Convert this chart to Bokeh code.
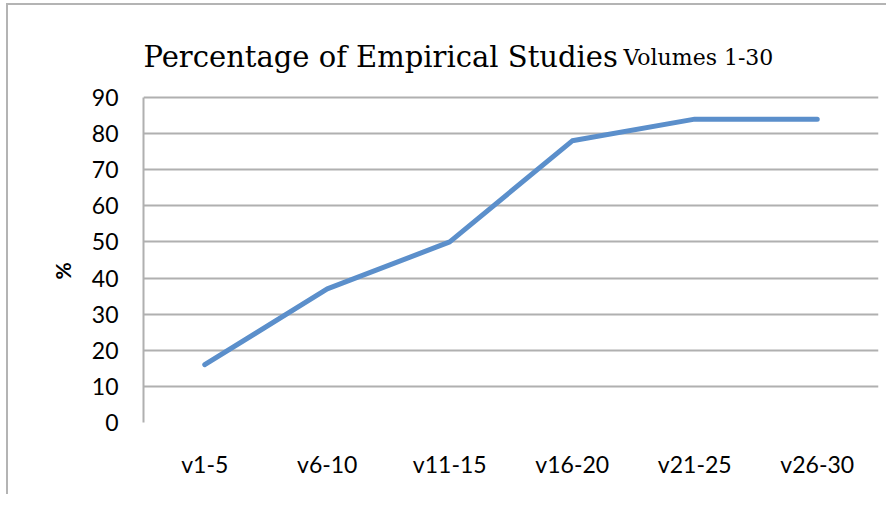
from bokeh.plotting import figure
from bokeh.models import FixedTicker, Range1d, Title
from bokeh.core.properties import value
from bokeh.embed import file_html
from bokeh.resources import INLINE

categories = ["v1-5", "v6-10", "v11-15", "v16-20", "v21-25", "v26-30"]
percent = [16, 37, 50, 78, 84, 84]
y_ticks = [0, 10, 20, 30, 40, 50, 60, 70, 80, 90]
title_main = "Percentage of Empirical Studies"
title_sub = "Volumes 1-30"
y_label = "%"

W, H = 880, 491
p = figure(x_range=categories, y_range=Range1d(0, 108.55), width=W, height=H,
           output_backend="svg", toolbar_location=None,
           min_border_left=135, min_border_right=10, min_border_top=25, min_border_bottom=74,
           stylesheets=[":host { margin-left: 6px !important; margin-top: 3px !important; "
                        "border-left: 2px solid #b4b4b4 !important; border-top: 2px solid #b4b4b4 !important; }"])
p.outline_line_color = None
p.background_fill_color = "white"
p.border_fill_color = "white"

p.line(categories, percent, line_color="#5b8fcb", line_width=5, line_cap="round", line_join="round")

# title drawn inside the (extended) frame, above the 90 gridline
p.text(x=[0.0], y=[101.08], text=[title_main], text_font=value("DejaVu Serif"),
       text_font_size="29px", text_color="black", text_baseline="alphabetic", text_align="left")
p.text(x=[3.918], y=[101.08], text=[title_sub], text_font=value("DejaVu Serif"),
       text_font_size="22px", text_color="black", text_baseline="alphabetic", text_align="left")

p.yaxis.ticker = FixedTicker(ticks=y_ticks)
p.yaxis.bounds = (0, 90)
p.yaxis.axis_line_color = "#b0b0b0"
p.yaxis.axis_line_width = 2
p.yaxis.major_tick_line_color = None
p.yaxis.minor_tick_line_color = None
p.yaxis.major_label_text_font = "Lato"
p.yaxis.major_label_text_font_size = "23px"
p.yaxis.major_label_text_color = "black"
p.yaxis.major_label_standoff = 19

# "%" axis caption as a left-side title, shifted to sit beside the 0-90 span
p.add_layout(Title(text=y_label, align="left", offset=143, standoff=27,
                   text_font="Lato", text_font_style="bold", text_font_size="21px",
                   text_color="black"), "left")

p.xaxis.axis_line_color = None
p.xaxis.major_tick_line_color = None
p.xaxis.minor_tick_line_color = None
p.xaxis.major_label_text_font = "Lato"
p.xaxis.major_label_text_font_size = "23px"
p.xaxis.major_label_text_color = "black"
p.xaxis.major_label_standoff = 21

p.xgrid.grid_line_color = None
p.ygrid.grid_line_color = "#b0b0b0"
p.ygrid.grid_line_width = 2

open("out.html", "w").write(file_html(p, INLINE))
